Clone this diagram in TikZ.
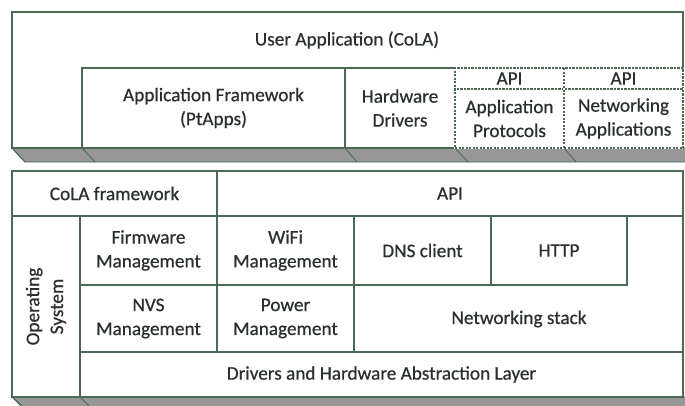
\documentclass[tikz,border=0pt]{standalone}
\usepackage{fontspec}
\setmainfont{Carlito}[FakeBold=0.6]
\definecolor{edgec}{HTML}{4A6A55}
\definecolor{txtc}{HTML}{2A302C}
\definecolor{slabc}{HTML}{979797}
\newcommand{\cellfont}{\fontsize{19.3}{24}\selectfont}
\tikzset{
  cell/.style={draw=edgec, line width=1.2bp, inner sep=0pt, outer sep=0pt, anchor=north west,
    align=center, text=txtc, font=\cellfont, fill=white},
  dcell/.style={cell, dash pattern=on 2.2bp off 1.3bp,
    preaction={draw=white, solid, line width=1.4bp}},
  lbl/.style={text=txtc, font=\cellfont, align=center, inner sep=0pt},
  slab/.style={fill=slabc, draw=edgec, line width=0.8bp},
  slant/.style={draw=edgec, line width=0.9bp}
}
\begin{document}
\begin{tikzpicture}[x=1bp, y=-1bp]
\useasboundingbox (0,0) rectangle (685,405);
\clip (0,0) rectangle (685,405);
% ---------- top block slab ----------
\path[slab] (12,148) -- (690,148) -- (690,162) -- (25,162) -- cycle;
\coordinate (s1) at (12,148);  \coordinate (s1b) at (25,162);
\coordinate (s2) at (82,148);  \coordinate (s2b) at (95,162);
\coordinate (s3) at (345,148); \coordinate (s3b) at (357,162);
\coordinate (s4) at (455,148); \coordinate (s4b) at (468,162);
\coordinate (s5) at (564,148); \coordinate (s5b) at (576,162);
\draw[slant] (s1) -- (s1b);
\draw[slant] (s2) -- (s2b);
\draw[slant] (s3) -- (s3b);
\draw[slant] (s4) -- (s4b);
\draw[slant] (s5) -- (s5b);
% ---------- top block ----------
\node[cell, minimum width=671bp, minimum height=136bp] (user) at (12,12) {};
\node[lbl] (usertxt) at (347,40) {User Application (CoLA)};
\node[cell, minimum width=263bp, minimum height=80bp] (appfw) at (82,68)
  {Application Framework\\(PtApps)};
\node[cell, minimum width=110bp, minimum height=80bp] (hwdrv) at (345,68)
  {Hardware\\Drivers};
\node[dcell, minimum width=109bp, minimum height=21bp] (api1) at (455,68) {API};
\node[dcell, minimum width=109bp, minimum height=59bp] (appproto) at (455,89)
  {Application\\Protocols};
\node[dcell, minimum width=119bp, minimum height=21bp] (api2) at (564,68) {API};
\node[dcell, minimum width=119bp, minimum height=59bp] (netapps) at (564,89)
  {Networking\\Applications};
% ---------- bottom block slab ----------
\path[slab] (12,397) -- (690,397) -- (690,412) -- (30,412) -- cycle;
\coordinate (b1) at (12,397); \coordinate (b1b) at (21,406);
\coordinate (b2) at (80,397); \coordinate (b2b) at (89,406);
\draw[slant] (b1) -- (b1b);
\draw[slant] (b2) -- (b2b);
% ---------- bottom block ----------
\node[cell, minimum width=671bp, minimum height=226bp] (lower) at (12,171) {};
\node[cell, minimum width=205bp, minimum height=45bp] (colafw) at (12,171) {CoLA framework};
\node[cell, minimum width=466bp, minimum height=45bp] (api) at (217,171) {API};
\node[cell, minimum width=68bp, minimum height=181bp] (os) at (12,216) {};
\node[lbl, rotate=90] (ostxt) at (os.center) {Operating\\System};
\node[cell, minimum width=137bp, minimum height=69bp] (fw) at (80,216) {Firmware\\Management};
\node[cell, minimum width=137bp, minimum height=69bp] (wifi) at (217,216) {WiFi\\Management};
\node[cell, minimum width=137bp, minimum height=69bp] (dns) at (354,216) {DNS client};
\node[cell, minimum width=136bp, minimum height=69bp] (http) at (491,216) {HTTP};
\node[cell, minimum width=137bp, minimum height=67bp] (nvs) at (80,285) {NVS\\Management};
\node[cell, minimum width=137bp, minimum height=67bp] (power) at (217,285) {Power\\Management};
\node[lbl] (netstack) at (519,319) {Networking stack};
\node[cell, minimum width=603bp, minimum height=45bp] (drv) at (80,352)
  {Drivers and Hardware Abstraction Layer};
\end{tikzpicture}
\end{document}
